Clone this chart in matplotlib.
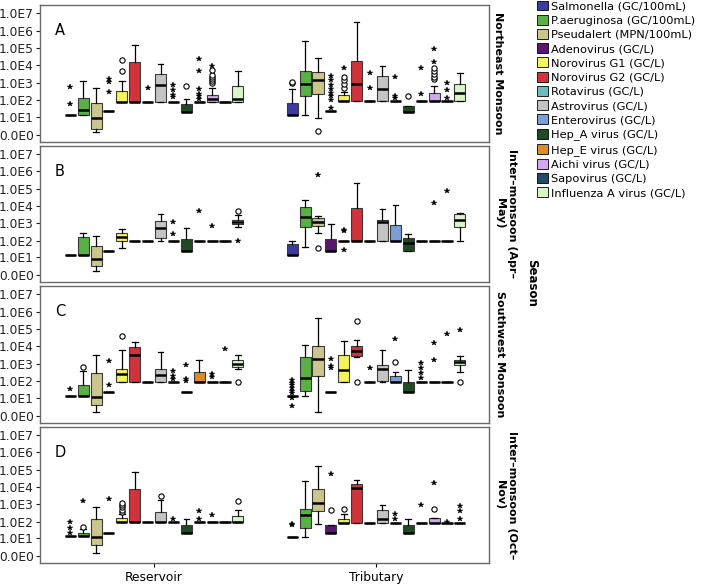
import matplotlib
matplotlib.use('Agg')
import matplotlib.pyplot as plt
from matplotlib.patches import Patch
import numpy as np

# ---------------- data (values are log10(x+1) of the concentration) ----------------
pathogens = ['Salmonella (GC/100mL)', 'P.aeruginosa (GC/100mL)', 'Pseudalert (MPN/100mL)',
             'Adenovirus (GC/L)', 'Norovirus G1 (GC/L)', 'Norovirus G2 (GC/L)',
             'Rotavirus (GC/L)', 'Astrovirus (GC/L)', 'Enterovirus (GC/L)',
             'Hep_A virus (GC/L)', 'Hep_E virus (GC/L)', 'Aichi virus (GC/L)',
             'Sapovirus (GC/L)', 'Influenza A virus (GC/L)']
colors = ['#3b3ba3', '#5ab143', '#cdc68c', '#5a176f', '#f5f35b', '#d0333b', '#6cbcbe',
          '#c4c4c4', '#7b9ed8', '#1f4a22', '#e08a22', '#d2a9ea', '#244a66', '#d8f7c8']
groups = ['Reservoir', 'Tributary']
seasons = ['Northeast Monsoon', 'Inter\u2013monsoon (Apr\u2013\nMay)',
           'Southwest Monsoon', 'Inter\u2013monsoon (Oct\u2013\nNov)']
letters = ['A', 'B', 'C', 'D']
ytick_values = [0, 1e1, 1e2, 1e3, 1e4, 1e5, 1e6, 1e7]
ytick_labels = ['0.0E0', '1.0E1', '1.0E2', '1.0E3', '1.0E4', '1.0E5', '1.0E6', '1.0E7']

# (whisker low, Q1, median, Q3, whisker high) per pathogen
A_res = [(1.13, 1.13, 1.13, 1.13, 1.13), (1.15, 1.15, 1.42, 2.11, 3.10), (0.19, 0.31, 0.96, 1.82, 2.68),
         (1.36, 1.36, 1.36, 1.36, 1.36), (1.92, 1.92, 1.92, 2.55, 3.10), (1.92, 1.92, 1.92, 4.23, 5.19),
         (1.92, 1.92, 1.92, 1.92, 1.92), (1.92, 1.92, 2.87, 3.52, 4.08), (1.92, 1.92, 1.92, 1.92, 1.92),
         (1.32, 1.32, 1.32, 1.76, 2.07), (1.92, 1.92, 1.92, 1.92, 1.92), (1.92, 1.92, 2.05, 2.32, 2.70),
         (1.92, 1.92, 1.92, 1.92, 1.92), (1.92, 1.92, 2.09, 2.80, 3.70)]
A_res_out = [[], [], [], [], [3.66, 4.29], [], [], [], [], [2.84], [], [3.0, 3.1, 3.22, 3.35, 3.47, 3.72], [], []]
A_res_ext = [[2.74, 1.76], [], [], [3.24, 3.05, 2.49], [], [], [2.70], [], [2.89, 2.61, 2.32, 2.18], [],
             [4.37, 3.70, 2.64, 2.38, 2.22, 2.07], [3.98], [], []]

A_trib = [(1.13, 1.13, 1.13, 1.82, 2.64), (1.13, 2.26, 2.93, 3.68, 5.42), (0.98, 2.34, 3.14, 3.64, 4.43),
          (1.36, 1.36, 1.36, 1.36, 1.36), (1.93, 1.93, 1.93, 2.28, 2.45), (1.93, 1.93, 2.95, 4.25, 6.49),
          (1.93, 1.93, 1.93, 1.93, 1.93), (1.93, 1.93, 2.62, 3.39, 3.98), (1.93, 1.93, 1.93, 1.93, 1.93),
          (1.32, 1.32, 1.32, 1.65, 1.65), (1.93, 1.93, 1.93, 1.93, 1.93), (1.93, 1.93, 1.93, 2.41, 2.84),
          (1.93, 1.93, 1.93, 1.93, 1.93), (1.93, 1.93, 2.43, 2.93, 3.56)]
A_trib_out = [[2.99, 3.05], [], [0.21], [], [2.70, 2.93, 3.14, 3.33], [], [], [], [], [2.22], [],
              [3.20, 3.35, 3.50, 3.66, 3.85], [], []]
A_trib_ext = [[], [], [], [3.39, 3.14, 2.87, 2.64, 2.41, 2.22, 2.03, 1.55], [3.87], [], [3.58, 2.68], [],
              [3.33, 2.22, 2.10], [], [3.83, 2.36], [4.96, 4.23], [2.99, 2.57, 2.13], []]

B_res = [(1.17, 1.17, 1.17, 1.17, 1.17), (1.17, 1.17, 1.17, 2.24, 2.43), (0.23, 0.52, 0.94, 1.67, 2.28),
         (1.38, 1.38, 1.38, 1.38, 1.38), (1.55, 1.99, 2.20, 2.45, 2.70), (1.97, 1.97, 1.97, 1.97, 1.97),
         (1.97, 1.97, 1.97, 1.97, 1.97), (1.97, 2.18, 2.72, 3.12, 3.54), (1.97, 1.97, 1.97, 1.97, 1.97),
         (1.38, 1.38, 1.38, 2.09, 2.74), (1.97, 1.97, 1.97, 1.97, 1.97), (1.97, 1.97, 1.97, 1.97, 1.97),
         (1.97, 1.97, 1.97, 1.97, 1.97), (2.76, 2.95, 3.10, 3.22, 3.47)]
B_res_out = [[], [], [], [], [], [], [], [], [], [], [], [], [], [3.72]]
B_res_ext = [[], [], [], [], [], [], [], [], [3.05, 2.41], [], [3.72], [2.85], [], [1.97]]

B_trib = [(1.19, 1.19, 1.19, 1.78, 1.99), (1.65, 2.76, 3.39, 3.97, 4.35), (2.47, 2.82, 3.10, 3.28, 3.45),
          (1.38, 1.38, 1.38, 2.09, 2.99), (1.99, 1.99, 1.99, 1.99, 1.99), (1.99, 1.99, 1.99, 3.87, 5.31),
          (1.99, 1.99, 1.99, 1.99, 1.99), (1.99, 1.99, 3.05, 3.20, 3.83), (1.99, 1.99, 1.99, 2.89, 4.04),
          (1.38, 1.38, 1.88, 2.13, 2.39), (1.99, 1.99, 1.99, 1.99, 1.99), (1.99, 1.99, 1.99, 1.99, 1.99),
          (1.99, 1.99, 1.99, 1.99, 1.99), (1.99, 2.76, 3.22, 3.51, 3.62)]
B_trib_out = [[], [], [1.57], [], [], [], [], [], [], [], [], [], [], []]
B_trib_ext = [[], [], [5.80], [], [2.62, 2.58, 1.48], [], [], [], [], [], [], [4.16], [4.87], []]

C_res = [(1.17, 1.17, 1.17, 1.17, 1.17), (1.17, 1.17, 1.17, 1.78, 2.57), (0.21, 0.65, 1.09, 2.47, 3.49),
         (1.38, 1.38, 1.38, 1.38, 1.38), (1.97, 1.97, 2.39, 2.72, 3.77), (1.97, 1.97, 3.51, 3.97, 4.25),
         (1.97, 1.97, 1.97, 1.97, 1.97), (1.97, 1.97, 2.38, 2.72, 3.68), (1.97, 1.97, 1.97, 1.97, 1.97),
         (1.38, 1.38, 1.38, 1.38, 1.38), (1.97, 1.97, 1.97, 2.51, 3.24), (1.97, 1.97, 1.97, 1.97, 1.97),
         (1.97, 1.97, 1.97, 1.97, 1.97), (2.72, 2.82, 3.01, 3.22, 3.52)]
C_res_out = [[], [2.80], [], [], [4.62], [], [], [], [], [], [], [], [], [1.97]]
C_res_ext = [[1.57], [], [], [3.16, 1.78], [], [], [], [], [2.57, 2.28, 2.10], [2.91, 2.10, 1.99], [],
             [2.41, 2.22], [3.85], []]

C_trib = [(1.17, 1.17, 1.17, 1.17, 1.17), (1.17, 1.44, 2.18, 3.41, 4.08), (0.23, 2.30, 3.28, 4.02, 5.65),
          (1.38, 1.38, 1.38, 1.38, 1.38), (1.97, 1.97, 2.66, 3.49, 4.33), (3.37, 3.43, 3.74, 4.00, 4.39),
          (1.97, 1.97, 1.97, 1.97, 1.97), (1.97, 2.01, 2.72, 2.91, 3.81), (1.97, 1.97, 1.97, 2.30, 2.51),
          (1.36, 1.36, 1.36, 1.97, 2.62), (1.97, 1.97, 1.97, 1.97, 1.97), (1.97, 1.97, 1.97, 1.97, 1.97),
          (1.97, 1.97, 1.97, 1.97, 1.97), (2.55, 2.95, 3.10, 3.24, 3.47)]
C_trib_out = [[], [], [], [], [], [5.46, 1.97], [], [], [3.10], [], [], [], [], [1.97]]
C_trib_ext = [[2.05, 1.90, 1.75, 1.60, 1.45, 1.32, 1.03, 0.59], [], [], [3.30, 2.89, 2.78], [], [],
              [2.76], [], [4.43], [], [3.05, 2.76, 2.47, 2.18], [4.18, 3.20], [4.73], [4.96]]

D_res = [(1.15, 1.15, 1.15, 1.15, 1.15), (1.15, 1.15, 1.15, 1.36, 1.55), (0.21, 0.63, 1.09, 2.18, 2.82),
         (1.36, 1.36, 1.36, 1.36, 1.36), (1.97, 1.97, 1.97, 2.20, 2.47), (1.97, 1.97, 1.97, 3.91, 4.85),
         (1.97, 1.97, 1.97, 1.97, 1.97), (1.97, 1.97, 1.97, 2.53, 3.25), (1.97, 1.97, 1.97, 1.97, 1.97),
         (1.36, 1.36, 1.36, 1.82, 2.16), (1.97, 1.97, 1.97, 1.97, 1.97), (1.97, 1.97, 1.97, 1.97, 1.97),
         (1.97, 1.97, 1.97, 1.97, 1.97), (1.97, 1.97, 1.97, 2.32, 2.66)]
D_res_out = [[], [1.70], [], [], [2.57, 2.70, 2.82, 2.95, 3.05], [], [], [3.47], [], [], [], [], [], [3.22]]
D_res_ext = [[1.99, 1.63, 1.36], [3.18], [], [3.31], [], [], [], [], [2.16], [], [2.62, 2.16], [2.38], [], []]

D_trib = [(1.13, 1.13, 1.13, 1.13, 1.13), (1.13, 1.65, 2.38, 2.72, 4.37), (1.84, 2.61, 3.05, 3.91, 5.21),
          (1.32, 1.32, 1.32, 1.80, 1.80), (1.95, 1.95, 1.95, 2.18, 2.45), (1.95, 1.95, 3.95, 4.20, 4.39),
          (1.95, 1.95, 1.95, 1.95, 1.95), (1.95, 1.95, 2.15, 2.66, 2.99), (1.95, 1.95, 1.95, 1.95, 1.95),
          (1.32, 1.32, 1.32, 1.78, 2.13), (1.95, 1.95, 1.95, 1.95, 1.95), (1.95, 1.95, 1.95, 2.22, 2.22),
          (1.95, 1.95, 1.95, 1.95, 1.95), (1.95, 1.95, 1.95, 1.95, 1.95)]
D_trib_out = [[], [], [], [2.70], [2.72], [], [], [], [], [], [], [2.72], [], []]
D_trib_ext = [[1.86, 1.78], [], [], [4.77], [], [], [], [], [2.45, 2.15], [], [2.95], [4.23], [1.99],
              [2.93, 2.62, 2.15]]

panels = [
    [(A_res, A_res_out, A_res_ext), (A_trib, A_trib_out, A_trib_ext)],
    [(B_res, B_res_out, B_res_ext), (B_trib, B_trib_out, B_trib_ext)],
    [(C_res, C_res_out, C_res_ext), (C_trib, C_trib_out, C_trib_ext)],
    [(D_res, D_res_out, D_res_ext), (D_trib, D_trib_out, D_trib_ext)],
]

# ---------------- figure ----------------
W, H = 705, 585
fig = plt.figure(figsize=(W / 100, H / 100), dpi=100)
plt.rcParams['font.family'] = ['DejaVu Sans']

tops = [5, 145.5, 286, 426.5]
ph = 136.5
left, width = 40, 449
step = 0.0581
bw = 0.05
ytick_pos = np.log10(np.array(ytick_values) + 1)
label_x = [498, 506, 500, 506]

for k in range(4):
    ax = fig.add_axes([left / W, 1 - (tops[k] + ph) / H, width / W, ph / H])
    for g in range(2):
        stats_list, outs, exts = panels[k][g]
        pos = [g + (i - 6.5) * step for i in range(len(stats_list))]
        stats = []
        for (lo, q1, med, q3, hi), fl in zip(stats_list, outs):
            stats.append(dict(whislo=lo, q1=q1, med=med, q3=q3, whishi=hi, fliers=fl))
        bp = ax.bxp(stats, positions=pos, widths=bw, patch_artist=True, showfliers=True,
                    boxprops=dict(edgecolor='#3a3a3a', linewidth=0.8),
                    medianprops=dict(color='black', linewidth=1.8, solid_capstyle='butt'),
                    whiskerprops=dict(color='black', linewidth=0.9),
                    capprops=dict(color='black', linewidth=0.9),
                    capwidths=bw * 0.5,
                    flierprops=dict(marker='o', markersize=3.8, markerfacecolor='white',
                                    markeredgecolor='black', markeredgewidth=0.8, linestyle='none'))
        for patch, c in zip(bp['boxes'], colors):
            patch.set_facecolor(c)
        for x, e in zip(pos, exts):
            if e:
                ax.plot([x] * len(e), e, linestyle='none', marker='*', markersize=4.2,
                        color='black', markeredgewidth=0.3)
    ax.set_xlim(-0.514, 1.509)
    ax.set_ylim(-0.385, 7.49)
    ax.set_yticks(ytick_pos)
    ax.set_yticklabels(ytick_labels)
    ax.tick_params(axis='y', length=3, width=0.8, labelsize=8.8, pad=1.5, colors='#222222')
    if k == 3:
        ax.set_xticks([0, 1])
        ax.set_xticklabels(groups)
        ax.tick_params(axis='x', length=3, width=0.8, labelsize=8.8, pad=3)
    else:
        ax.set_xticks([])
    for s in ax.spines.values():
        s.set_color('#6a6a6a')
        s.set_linewidth(1.0)
    ax.text(0.033, 0.81, letters[k], transform=ax.transAxes, ha='left', va='center', fontsize=10.5)
    yc = 1 - (tops[k] + ph / 2) / H
    fig.text(label_x[k] / W, yc, seasons[k], rotation=270, ha='center', va='center',
             fontsize=8, fontweight='bold', multialignment='center')

fig.text(532 / W, 1 - 283 / H, 'Season', rotation=270, ha='center', va='center',
         fontsize=8.5, fontweight='bold')

handles = [Patch(facecolor=c, edgecolor='black', linewidth=0.6) for c in colors]
fig.legend(handles, pathogens, loc='upper left', bbox_to_anchor=(537 / W, 1 - 0.5 / H),
           frameon=False, fontsize=8.2, handlelength=0.95, handleheight=0.95,
           handletextpad=0.25, labelspacing=0.3, borderpad=0, borderaxespad=0)

fig.savefig('out.png', dpi=100)
